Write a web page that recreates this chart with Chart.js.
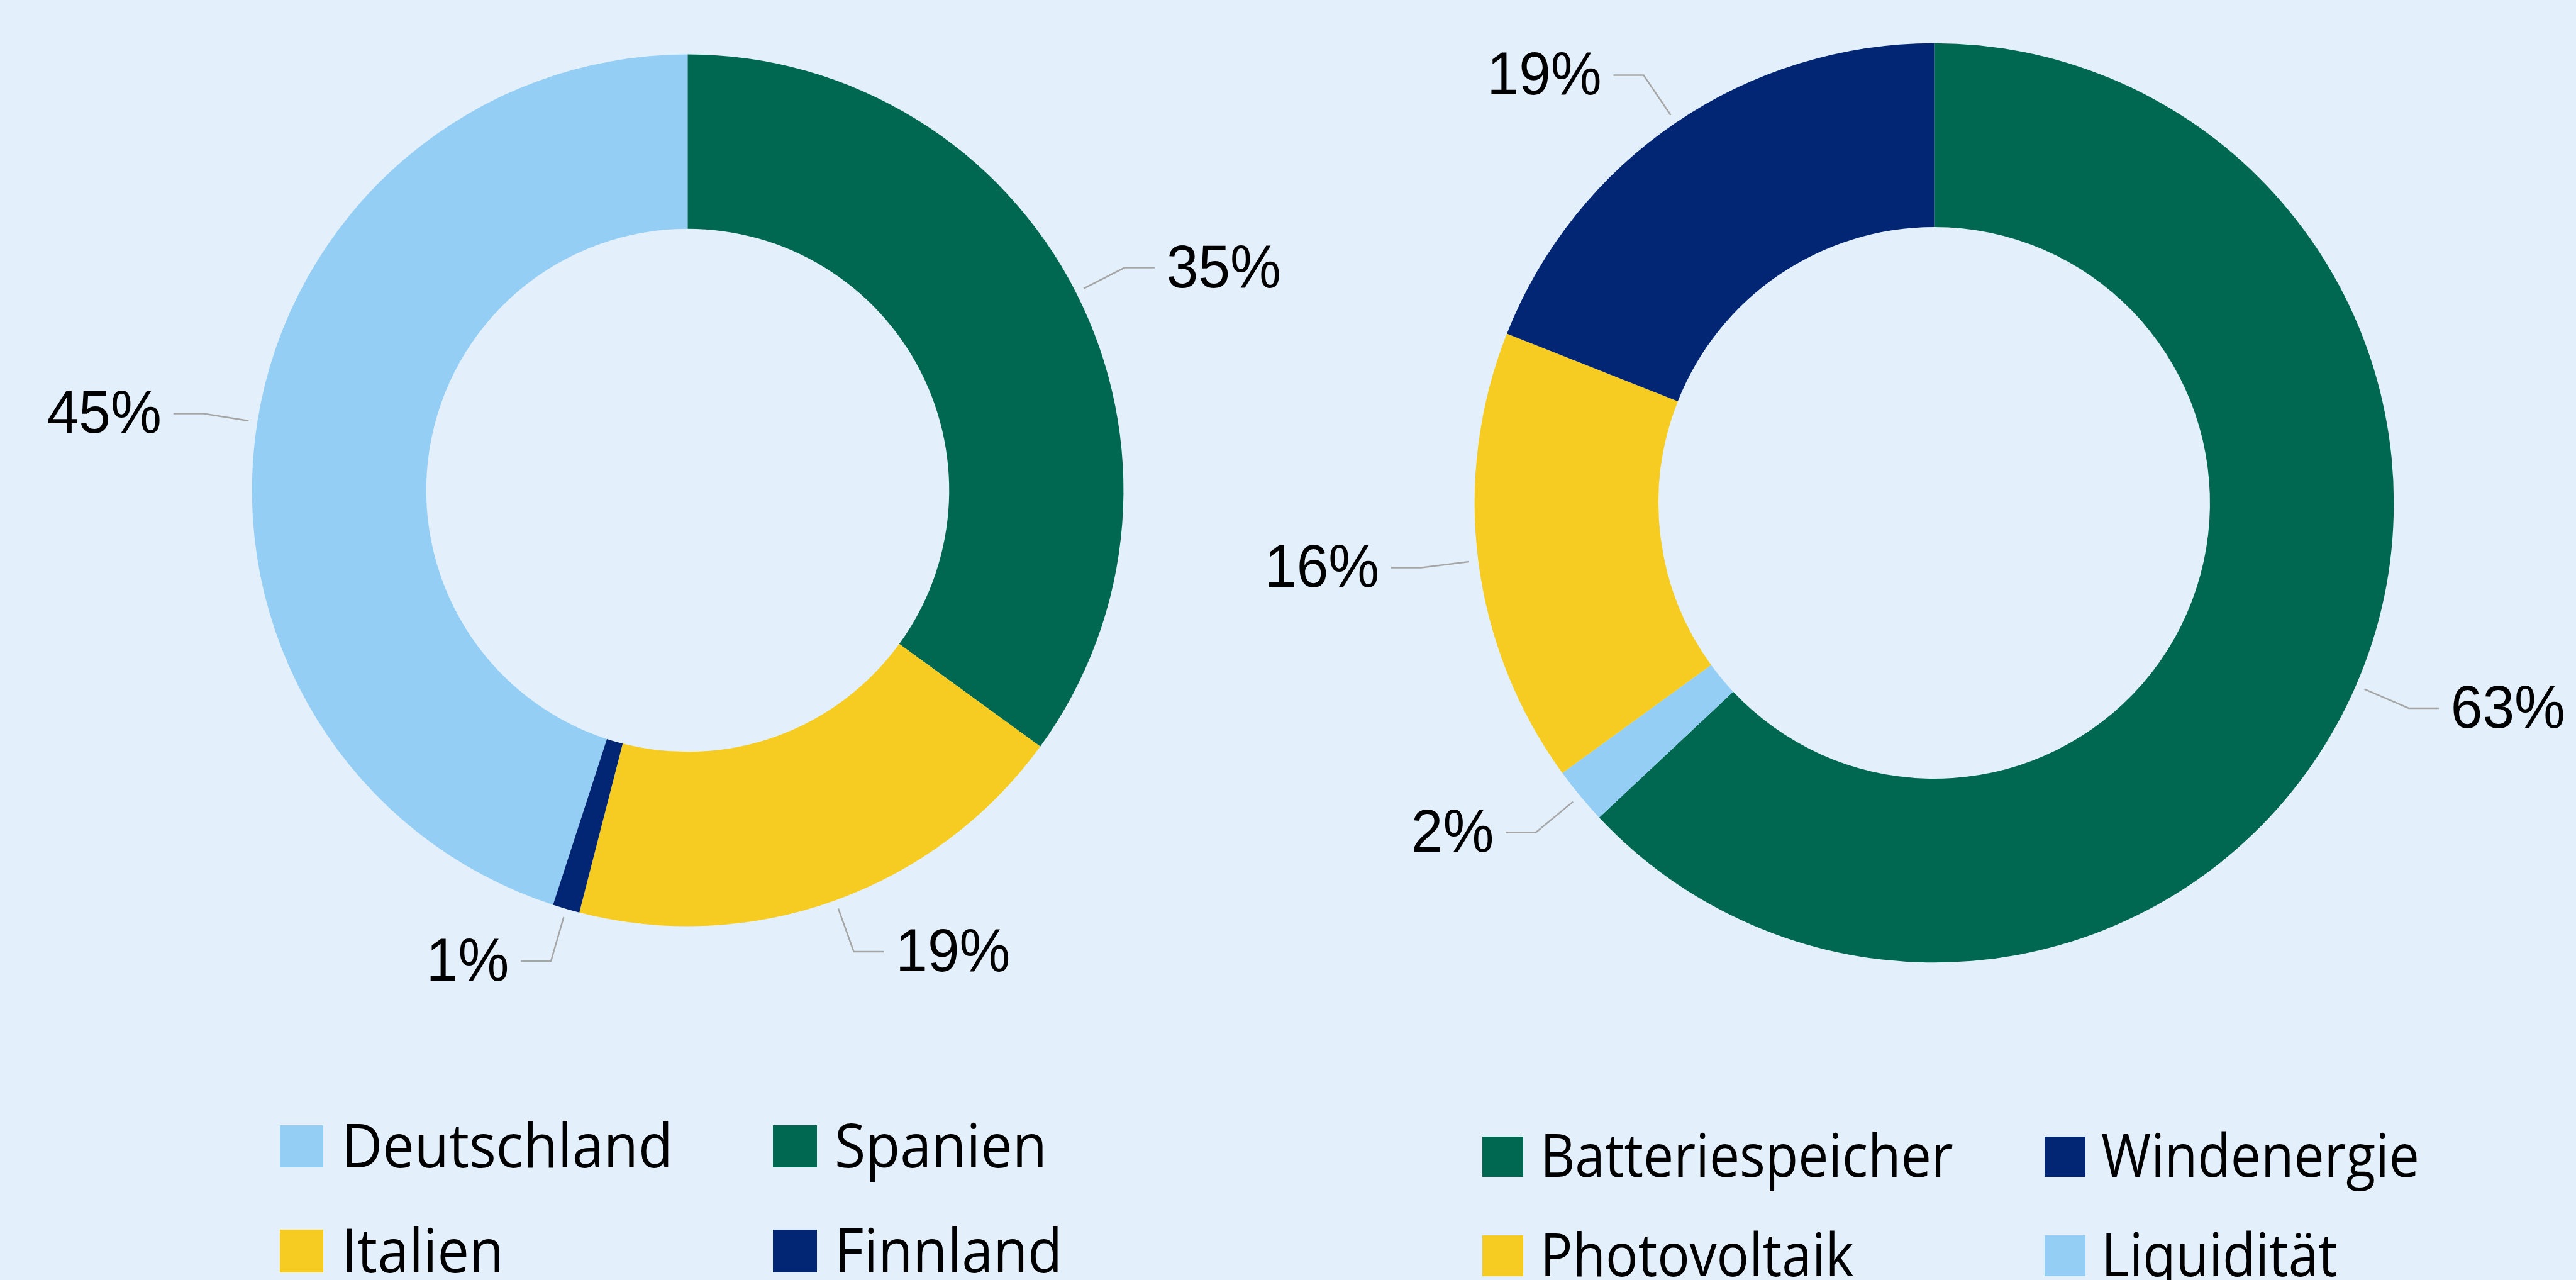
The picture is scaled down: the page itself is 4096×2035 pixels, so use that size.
<!DOCTYPE html>
<html>
<head>
<meta charset="utf-8">
<script src="https://cdn.jsdelivr.net/npm/chart.js@4.4.1/dist/chart.umd.min.js"></script>
<style>
  html, body { margin: 0; padding: 0; width: 4096px; height: 2035px; overflow: hidden; background: #E3F0FB; }
  canvas { position: absolute; left: 0; top: 0; }
  .box { position: absolute; }
  .txt { position: absolute; white-space: nowrap; font-family: "Open Sans", sans-serif; color: #000; transform-origin: 0 0; }
</style>
</head>
<body>
<canvas id="leftChart" width="4096" height="2035"></canvas>
<canvas id="rightChart" width="4096" height="2035"></canvas>
<div id="legends"></div>
<script>
// shares in %, in the order the slices run clockwise
const leftLabels = ['Deutschland', 'Spanien', 'Italien', 'Finnland'];
const leftValues = [45, 35, 19, 1];
const rightLabels = ['Batteriespeicher', 'Liquidität', 'Photovoltaik', 'Windenergie'];
const rightValues = [63, 2, 16, 19];

// legend entries as printed under each chart (row by row, two columns)
const leftLegend = ['Deutschland', 'Spanien', 'Italien', 'Finnland'];
const rightLegend = ['Batteriespeicher', 'Windenergie', 'Photovoltaik', 'Liquidität'];

const colorOf = {
    Deutschland: '#95CEF5', Spanien: '#006850', Italien: '#F6CB22', Finnland: '#022574',
    Batteriespeicher: '#006850', Windenergie: '#022574', Photovoltaik: '#F6CB22', 'Liquidität': '#95CEF5'
};

const S = 0.997; // reference -> window

// percentage labels with elbow leader lines
const leaderLabels = {
    id: 'leaderLabels',
    afterDatasetsDraw(chart) {
        const ctx = chart.ctx;
        const values = chart.data.datasets[0].data;
        chart.getDatasetMeta(0).data.forEach((arc, i) => {
            const p = arc.getProps(['x', 'y', 'startAngle', 'endAngle', 'outerRadius'], true);
            const a = (p.startAngle + p.endAngle) / 2;
            const cos = Math.cos(a), sin = Math.sin(a);
            const side = cos >= 0 ? 1 : -1;
            const x0 = p.x + cos * p.outerRadius * 1.02;
            const y0 = p.y + sin * p.outerRadius * 1.02;
            const x1 = p.x + cos * p.outerRadius * 1.125;
            const y1 = p.y + sin * p.outerRadius * 1.125;
            const x2 = x1 + side * 48 * S;
            ctx.save();
            ctx.strokeStyle = '#A6A6A6';
            ctx.lineWidth = 2.5;
            ctx.beginPath();
            ctx.moveTo(x0, y0);
            ctx.lineTo(x1, y1);
            ctx.lineTo(x2, y1);
            ctx.stroke();
            ctx.translate(x2 + side * 19 * S, y1 + 31 * S);
            ctx.scale(0.95, 1);
            ctx.font = (96 * S) + 'px "Liberation Sans", Arial, sans-serif';
            ctx.fillStyle = '#000';
            ctx.textAlign = side > 0 ? 'left' : 'right';
            ctx.textBaseline = 'alphabetic';
            ctx.fillText(values[i] + '%', 0, 0);
            ctx.restore();
        });
    }
};

function makeDonut(id, labels, values, rotation, radius, padding) {
    return new Chart(document.getElementById(id).getContext('2d'), {
        type: 'doughnut',
        data: {
            labels: labels,
            datasets: [{
                data: values,
                backgroundColor: labels.map(l => colorOf[l]),
                borderWidth: 0,
                hoverOffset: 0
            }]
        },
        options: {
            responsive: false,
            animation: false,
            devicePixelRatio: 1,
            events: [],
            rotation: rotation,
            radius: radius,
            cutout: '60%',
            layout: { padding: padding },
            plugins: { legend: { display: false }, tooltip: { enabled: false } }
        },
        plugins: [leaderLabels]
    });
}

makeDonut('leftChart', leftLabels, leftValues, 198, 695 * S,
    { left: 0, right: 1909, top: 0, bottom: 476 });
makeDonut('rightChart', rightLabels, rightValues, 0, 733 * S,
    { left: 2055, right: 0, top: 0, bottom: 436 });

// legends: two columns, two rows, text baseline on the bottom of the box
function buildLegend(items, spec) {
    const holder = document.getElementById('legends');
    const mctx = document.createElement('canvas').getContext('2d');
    mctx.font = spec.font + 'px "Open Sans"';
    const m = mctx.measureText('Dg');
    const asc = m.fontBoundingBoxAscent, desc = m.fontBoundingBoxDescent;
    items.forEach((name, i) => {
        const col = i % 2, row = Math.floor(i / 2);
        const box = document.createElement('div');
        box.className = 'box';
        box.style.left = spec.boxX[col] + 'px';
        box.style.top = spec.rowTop[row] + 'px';
        box.style.width = spec.boxW + 'px';
        box.style.height = spec.boxH + 'px';
        box.style.background = colorOf[name];
        holder.appendChild(box);

        const t = document.createElement('div');
        t.className = 'txt';
        t.textContent = name;
        const lh = asc + desc;
        t.style.fontSize = spec.font + 'px';
        t.style.lineHeight = lh + 'px';
        t.style.left = spec.textX[col] + 'px';
        t.style.top = (spec.rowTop[row] + spec.boxH - asc) + 'px';
        t.style.transform = 'scaleX(' + spec.squeeze + ')';
        holder.appendChild(t);
    });
}

buildLegend(leftLegend, {
    boxX: [446 * S, 1233 * S], textX: [545 * S, 1331 * S], rowTop: [1794 * S, 1961 * S],
    boxW: 70 * S, boxH: 68 * S, font: 96.5 * S, squeeze: 0.935
});
buildLegend(rightLegend, {
    boxX: [2364 * S, 3261 * S], textX: [2456 * S, 3351 * S], rowTop: [1812 * S, 1970 * S],
    boxW: 65 * S, boxH: 65 * S, font: 95 * S, squeeze: 0.905
});
</script>
</body>
</html>
